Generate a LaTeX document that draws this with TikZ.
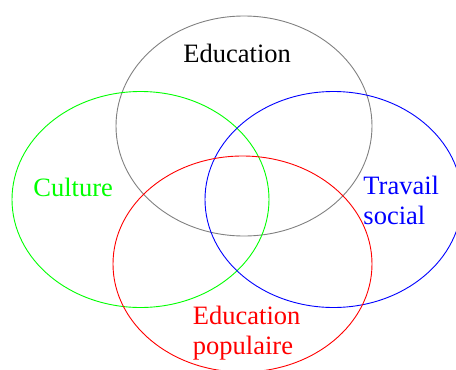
\documentclass[tikz,border=0pt]{standalone}
\usepackage{fontspec}
\setmainfont{Liberation Serif}

\begin{document}
\begin{tikzpicture}[x=1pt, y=-1pt, line width=0.9pt,
    venntext/.style={inner sep=0pt, align=left, anchor=base west,
      font=\rmfamily\fontsize{26.5}{30}\selectfont}]
          \useasboundingbox (0,0) rectangle (456,370);

          \draw [color=gray] (244,126) ellipse [x radius=128pt, y radius=110pt];
          \draw [color=green] (140.5,199.5) ellipse [x radius=128.5pt, y radius=108pt];
          \draw [color=blue] (333.5,199.5) ellipse [x radius=128.5pt, y radius=108pt];
          \draw [color=red] (242.5,264) ellipse [x radius=129.5pt, y radius=108pt];

          \node [venntext] (education) at (183,62.7) {Education};
          \node [venntext, text=green] (culture) at (33,196.7) {Culture};
          \node [venntext, text=blue] (travail) at (363,224.5) {Travail\\social};
          \node [venntext, text=red] (edupop) at (192.5,354) {Education\\populaire};
        \end{tikzpicture}
\end{document}
